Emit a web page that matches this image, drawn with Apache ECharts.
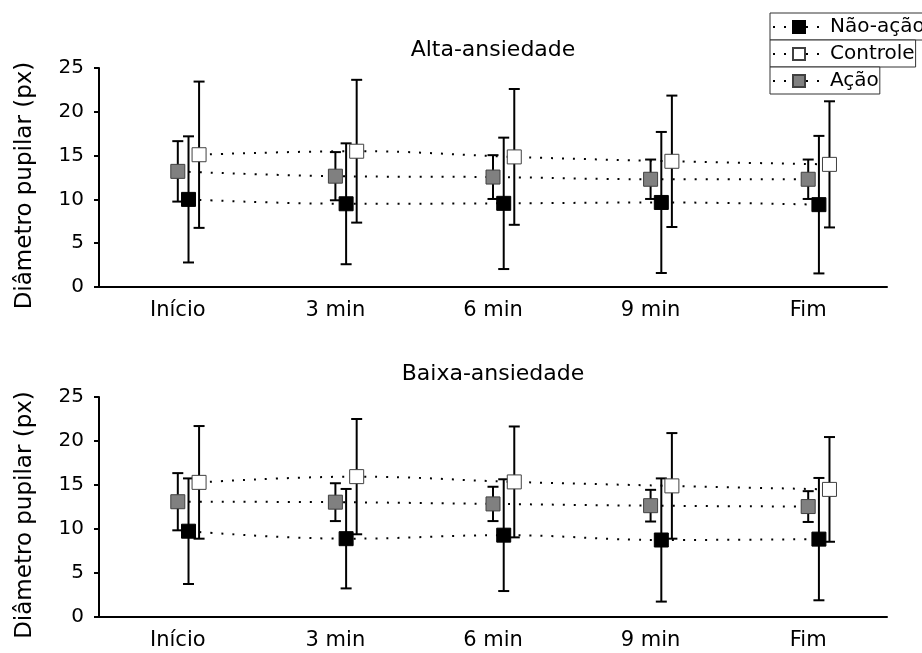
<!DOCTYPE html>
<html><head><meta charset="utf-8">
<title>Diâmetro pupilar</title>
<script src="https://cdn.jsdelivr.net/npm/echarts@6/dist/echarts.min.js"></script>
<style>html,body{margin:0;padding:0;background:#fff}#main{width:922px;height:653px}</style>
</head>
<body>
<div id="main"></div>
<script>
// categorias (eixo x)
var categories = ['Início', '3 min', '6 min', '9 min', 'Fim'];

// Alta-ansiedade: média e erro
var altaNaoAcao = [10.0, 9.5, 9.55, 9.65, 9.4];
var altaNaoAcaoErr = [7.2, 6.9, 7.5, 8.05, 7.85];
var altaControle = [15.1, 15.5, 14.85, 14.35, 14.0];
var altaControleErr = [8.35, 8.15, 7.75, 7.5, 7.2];
var altaAcao = [13.2, 12.65, 12.55, 12.3, 12.3];
var altaAcaoErr = [3.45, 2.75, 2.5, 2.25, 2.25];

// Baixa-ansiedade
var baixaNaoAcao = [9.75, 8.9, 9.3, 8.75, 8.85];
var baixaNaoAcaoErr = [6.0, 5.65, 6.35, 7.0, 6.95];
var baixaControle = [15.3, 15.95, 15.35, 14.9, 14.5];
var baixaControleErr = [6.4, 6.55, 6.3, 6.0, 5.95];
var baixaAcao = [13.1, 13.05, 12.85, 12.65, 12.55];
var baixaAcaoErr = [3.25, 2.15, 1.95, 1.8, 1.75];

var myChart = echarts.init(document.getElementById('main'));
var font = 'DejaVu Sans';

function renderErr(params, api) {
    var lo = api.coord([api.value(0), api.value(1)]);
    var hi = api.coord([api.value(0), api.value(2)]);
    var w = 5.5;
    var st = {stroke: '#000', lineWidth: 2};
    return {type: 'group', children: [
        {type: 'line', shape: {x1: lo[0], y1: hi[1], x2: lo[0], y2: lo[1]}, style: st},
        {type: 'line', shape: {x1: lo[0] - w, y1: hi[1], x2: lo[0] + w, y2: hi[1]}, style: st},
        {type: 'line', shape: {x1: lo[0] - w, y1: lo[1], x2: lo[0] + w, y2: lo[1]}, style: st}
    ]};
}

function lineSeries(g, name, vals, off, color, border) {
    return {
        name: name, type: 'line', xAxisIndex: g * 3 + 2, yAxisIndex: g,
        data: vals.map(function (v, i) { return [i + off, v]; }),
        smooth: 0.4, symbol: 'rect', symbolSize: 14, z: 3,
        itemStyle: {color: color, borderColor: border, borderWidth: 1},
        lineStyle: {color: '#000', width: 2, type: [2, 9]},
        emphasis: {disabled: true}
    };
}

function errSeries(g, name, vals, errs, off) {
    return {
        name: name, type: 'custom', xAxisIndex: g * 3 + 2, yAxisIndex: g,
        renderItem: renderErr, z: 2,
        encode: {x: 0, y: [1, 2]},
        data: vals.map(function (v, i) { return [i + off, v - errs[i], v + errs[i]]; })
    };
}

var offNao = 0.068, offCtrl = 0.135, offAcao = 0;
var panels = [
    [altaNaoAcao, altaNaoAcaoErr, altaControle, altaControleErr, altaAcao, altaAcaoErr],
    [baixaNaoAcao, baixaNaoAcaoErr, baixaControle, baixaControleErr, baixaAcao, baixaAcaoErr]
];
var series = [];
panels.forEach(function (d, g) {
    series.push(lineSeries(g, 'Não-ação', d[0], offNao, '#000', '#000'));
    series.push(lineSeries(g, 'Controle', d[2], offCtrl, '#fff', '#404040'));
    series.push(lineSeries(g, 'Ação', d[4], offAcao, '#808080', '#404040'));
});
panels.forEach(function (d, g) {
    series.push(errSeries(g, 'Ação', d[4], d[5], offAcao));
    series.push(errSeries(g, 'Não-ação', d[0], d[1], offNao));
    series.push(errSeries(g, 'Controle', d[2], d[3], offCtrl));
});

var axisLine = {show: true, onZero: false, lineStyle: {color: '#000', width: 2}};
var xAxes = [], yAxes = [];
[0, 1].forEach(function (g) {
    xAxes.push({
        type: 'category', gridIndex: g, data: categories, boundaryGap: true,
        axisLine: axisLine,
        axisTick: {alignWithLabel: true, interval: 0, length: 10, lineStyle: {color: '#000', width: 2}},
        axisLabel: {color: '#000', fontSize: 21, fontFamily: font, margin: 13, interval: 0}
    });
    xAxes.push({
        type: 'category', gridIndex: g, data: categories, boundaryGap: true,
        axisLine: {show: false},
        axisTick: {interval: 0, length: 5, lineStyle: {color: '#000', width: 2}},
        axisLabel: {show: false}
    });
    xAxes.push({type: 'value', gridIndex: g, min: -0.5, max: 4.5, show: false});
    yAxes.push({
        type: 'value', gridIndex: g, min: 0, max: 25, interval: 5,
        name: 'Diâmetro pupilar (px)', nameLocation: 'middle', nameGap: 62,
        nameTextStyle: {color: '#000', fontSize: 23, fontFamily: font, padding: [0, 16, 0, 0]},
        axisLine: axisLine,
        axisTick: {show: true, length: 5, lineStyle: {color: '#000', width: 2}},
        splitLine: {show: false},
        axisLabel: {color: '#000', fontSize: 20, fontFamily: font, margin: 15}
    });
});

function legendRow(name, top) {
    return {
        data: [name], left: 770, top: top, orient: 'horizontal',
        itemWidth: 52, itemHeight: 15, itemGap: 0,
        padding: [4, 1, 3, 2], borderColor: '#333', borderWidth: 1,
        backgroundColor: '#fff', selectedMode: false,
        textStyle: {color: '#000', fontSize: 20, fontFamily: font}
    };
}

var option = {
    animation: false,
    textStyle: {fontFamily: font},
    grid: [
        {left: 99, right: 35, top: 68, height: 219},
        {left: 99, right: 35, top: 397, height: 220}
    ],
    xAxis: xAxes,
    yAxis: yAxes,
    legend: [legendRow('Não-ação', 13), legendRow('Controle', 40), legendRow('Ação', 67)],
    graphic: [
        {type: 'text', x: 493, y: 39, style: {text: 'Alta-ansiedade', align: 'center', fill: '#000', font: '22px "DejaVu Sans"'}},
        {type: 'text', x: 493, y: 363, style: {text: 'Baixa-ansiedade', align: 'center', fill: '#000', font: '22px "DejaVu Sans"'}}
    ],
    series: series
};
myChart.setOption(option);
</script>
</body>
</html>
